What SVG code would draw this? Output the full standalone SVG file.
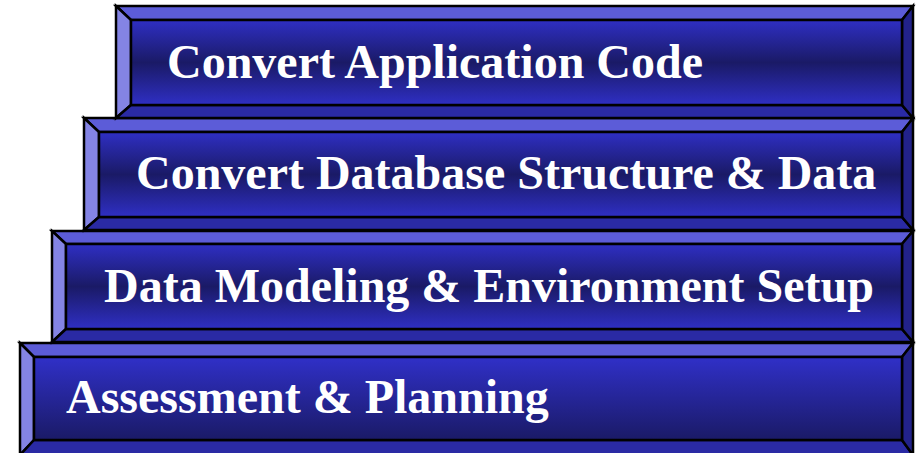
<svg xmlns="http://www.w3.org/2000/svg" width="918" height="453" viewBox="0 0 918 453">
<defs>
<linearGradient id="gMid" x1="0" y1="0" x2="0" y2="1">
<stop offset="0" stop-color="#2f2fc4"/>
<stop offset="0.5" stop-color="#1a1a66"/>
<stop offset="1" stop-color="#2f2fc4"/>
</linearGradient>
<linearGradient id="gDown" x1="0" y1="0" x2="0" y2="1">
<stop offset="0" stop-color="#3030c8"/>
<stop offset="1" stop-color="#1a1a66"/>
</linearGradient>
<style>
.top{fill:#5c5cd8}
.left{fill:#8484e4}
.bot{fill:#2a2aa4}
.right{fill:#22228a}
path,rect{stroke:#000;stroke-width:2.5;stroke-linejoin:miter}
text{font-family:"Liberation Serif","Times New Roman",serif;font-weight:bold;font-size:48px;fill:#fff}
</style>
</defs>
<g id="step4">
<path class="top" d="M20,343 L913,343 L902,357 L34,357 Z"/>
<path class="left" d="M20,343 L34,357 L34,440 L20,455 Z"/>
<path class="bot" d="M34,440 L902,440 L913,455 L20,455 Z"/>
<path class="right" d="M902,357 L913,343 L913,455 L902,440 Z"/>
<rect x="34" y="357" width="868" height="83" fill="url(#gDown)"/>
<text x="66" y="413">Assessment &amp; Planning</text>
</g>
<g id="step3">
<path class="top" d="M52,231 L913,231 L902,244 L66,244 Z"/>
<path class="left" d="M52,231 L66,244 L66,329 L52,342 Z"/>
<path class="bot" d="M66,329 L902,329 L913,342 L52,342 Z"/>
<path class="right" d="M902,244 L913,231 L913,342 L902,329 Z"/>
<rect x="66" y="244" width="836" height="85" fill="url(#gMid)"/>
<text x="104" y="302">Data Modeling &amp; Environment Setup</text>
</g>
<g id="step2">
<path class="top" d="M84,118 L913,118 L902,132 L99,132 Z"/>
<path class="left" d="M84,118 L99,132 L99,217 L84,230 Z"/>
<path class="bot" d="M99,217 L902,217 L913,230 L84,230 Z"/>
<path class="right" d="M902,132 L913,118 L913,230 L902,217 Z"/>
<rect x="99" y="132" width="803" height="85" fill="url(#gMid)"/>
<text x="136" y="189">Convert Database Structure &amp; Data</text>
</g>
<g id="step1">
<path class="top" d="M116,6 L913,6 L902,20 L131,20 Z"/>
<path class="left" d="M116,6 L131,20 L131,105 L116,118 Z"/>
<path class="bot" d="M131,105 L902,105 L913,118 L116,118 Z"/>
<path class="right" d="M902,20 L913,6 L913,118 L902,105 Z"/>
<rect x="131" y="20" width="771" height="85" fill="url(#gMid)"/>
<text x="167" y="78">Convert Application Code</text>
</g>
<g id="connectors"/>
</svg>
